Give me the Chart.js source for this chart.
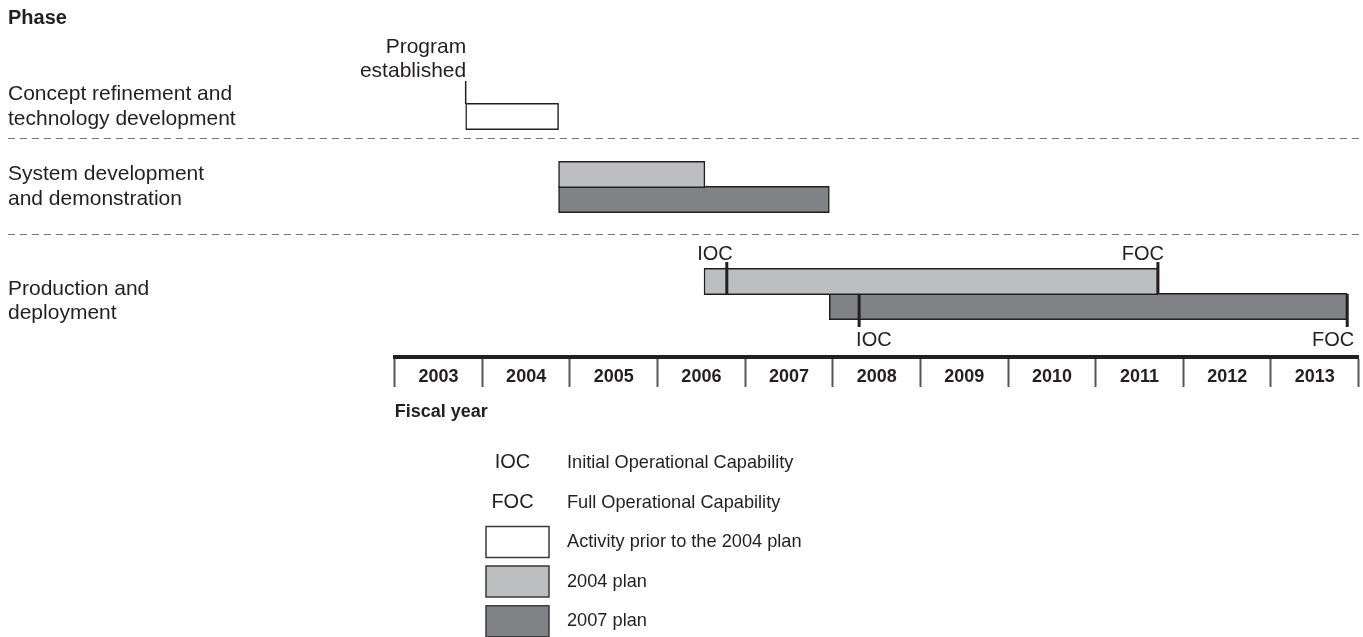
<!DOCTYPE html>
<html>
<head>
<meta charset="utf-8">
<title>Program phases: 2004 plan vs 2007 plan</title>
<script src="https://cdn.jsdelivr.net/npm/chart.js@4.4.1/dist/chart.umd.min.js"></script>
<style>
  html, body { margin: 0; padding: 0; background: #fff; overflow: hidden; }
  #wrap { width: 1363px; height: 637px; }
</style>
</head>
<body>
<div id="wrap"><canvas id="chart" width="1363" height="637"></canvas></div>
<script>
(function () {
  "use strict";

  /* ---- data: fiscal-year spans ------------------------------------------ */
  var years = ["2003", "2004", "2005", "2006", "2007", "2008", "2009", "2010", "2011", "2012", "2013"];
  var phaseLabels = [
    ["Concept refinement and", "technology development"],
    ["System development", "and demonstration"],
    ["Production and", "deployment"]
  ];
  var seriesNames = ["Activity prior to the 2004 plan", "2004 plan", "2007 plan"];
  var priorSpans = [[2003.81, 2004.87]];                         // concept refinement
  var plan2004Spans = [[2004.87, 2006.54], [2006.53, 2011.71]];  // SDD, production
  var plan2007Spans = [[2004.87, 2007.96], [2007.96, 2013.87]];  // SDD, production
  var programEstablished = 2003.81;
  var milestoneNames = ["IOC", "FOC"];
  var milestoneDescs = ["Initial Operational Capability", "Full Operational Capability"];
  var plan2004Milestones = [2006.79, 2011.71];                   // IOC, FOC
  var plan2007Milestones = [2008.30, 2013.87];

  /* ---- layout / style ---------------------------------------------------- */
  var FONT = "'Liberation Sans', Arial, Helvetica, sans-serif";
  var INK = "#231f20";
  var FILL = ["#ffffff", "#bcbec0", "#808285"];
  // vertical lanes in bar-height units above the axis
  var LANE = { prior: [9.62], p2004: [7.3, 3.02], p2007: [6.3, 2.02] };
  var SEPARATORS = [8.76, 4.92];
  var PHASE_BASE = [100, 180, 294.5];
  var BORDER = 1.5;
  var LEG = { markX: 512.5, boxX: 486, boxW: 63, boxH: 31, textX: 567, rowY: [462.5, 502.5, 542, 581.5, 621.3] };

  function spans(arr, lanes) {
    return arr.map(function (s, i) { return { x: s, y: lanes[i] }; });
  }
  function barSet(label, data, color) {
    return {
      label: label, data: data, backgroundColor: color, borderColor: INK,
      borderWidth: BORDER, borderSkipped: false, barThickness: 25 + BORDER, grouped: false
    };
  }

  /* ---- decorations: phase labels, separators, milestones, legend --------- */
  var decor = {
    id: "decor",
    beforeDatasetsDraw: function (chart) {
      var ctx = chart.ctx, y = chart.scales.y;
      ctx.save();
      ctx.fillStyle = INK;
      ctx.textAlign = "left";
      ctx.textBaseline = "alphabetic";
      ctx.font = "bold 20px " + FONT;
      ctx.fillText("Phase", 8, 24);
      ctx.font = "21px " + FONT;
      phaseLabels.forEach(function (lines, i) {
        lines.forEach(function (t, j) { ctx.fillText(t, 8, PHASE_BASE[i] + j * 24.5); });
      });
      ctx.strokeStyle = "#7a7a7a";
      ctx.lineWidth = 1;
      ctx.setLineDash([7, 5]);
      SEPARATORS.forEach(function (v) {
        var py = Math.round(y.getPixelForValue(v)) + 0.5;
        ctx.beginPath(); ctx.moveTo(8, py); ctx.lineTo(1360, py); ctx.stroke();
      });
      ctx.restore();
    },
    afterDatasetsDraw: function (chart) {
      var ctx = chart.ctx, x = chart.scales.x;
      function edges(ds, idx) {
        var el = chart.getDatasetMeta(ds).data[idx];
        var half = (el.height - BORDER) / 2;
        return { top: el.y - half, bottom: el.y + half };
      }
      ctx.save();
      ctx.strokeStyle = INK;
      ctx.fillStyle = INK;

      // program established marker
      var c = edges(0, 0), px = x.getPixelForValue(programEstablished);
      ctx.lineWidth = 1.5;
      ctx.beginPath(); ctx.moveTo(px, c.top); ctx.lineTo(px, c.top - 23); ctx.stroke();
      ctx.font = "21px " + FONT;
      ctx.textAlign = "right";
      ctx.fillText("Program", px + 0.5, c.top - 51.5);
      ctx.fillText("established", px + 0.5, c.top - 27);

      // IOC / FOC ticks on the production bars
      ctx.font = "20px " + FONT;
      ctx.lineWidth = 3;
      var up = edges(1, 1);
      plan2004Milestones.forEach(function (v, i) {
        var mx = x.getPixelForValue(v);
        ctx.beginPath(); ctx.moveTo(mx, up.top - 7); ctx.lineTo(mx, up.bottom); ctx.stroke();
        ctx.textAlign = "right";
        ctx.fillText(milestoneNames[i], mx + 6, up.top - 9);
      });
      var lo = edges(2, 1);
      plan2007Milestones.forEach(function (v, i) {
        var mx = x.getPixelForValue(v);
        ctx.beginPath(); ctx.moveTo(mx, lo.top); ctx.lineTo(mx, lo.bottom + 8); ctx.stroke();
        if (i === 0) { ctx.textAlign = "left"; ctx.fillText(milestoneNames[i], mx - 3, lo.bottom + 27); }
        else { ctx.textAlign = "right"; ctx.fillText(milestoneNames[i], mx + 7, lo.bottom + 27); }
      });
      ctx.restore();
    },
    afterDraw: function (chart) {
      var ctx = chart.ctx;
      ctx.save();
      ctx.fillStyle = INK;
      ctx.textBaseline = "middle";
      milestoneNames.forEach(function (m, i) {
        ctx.font = "20px " + FONT;
        ctx.textAlign = "center";
        ctx.fillText(m, LEG.markX, LEG.rowY[i]);
        ctx.font = "18.2px " + FONT;
        ctx.textAlign = "left";
        ctx.fillText(milestoneDescs[i], LEG.textX, LEG.rowY[i]);
      });
      chart.data.datasets.forEach(function (ds, i) {
        var cy = LEG.rowY[2 + i];
        ctx.fillStyle = ds.backgroundColor;
        ctx.fillRect(LEG.boxX, cy - LEG.boxH / 2, LEG.boxW, LEG.boxH);
        ctx.strokeStyle = "#3a3a3a";
        ctx.lineWidth = 1.5;
        ctx.strokeRect(LEG.boxX, cy - LEG.boxH / 2, LEG.boxW, LEG.boxH);
        ctx.fillStyle = INK;
        ctx.font = "18.2px " + FONT;
        ctx.textAlign = "left";
        ctx.fillText(ds.label, LEG.textX, cy);
      });
      ctx.restore();
    }
  };

  new Chart(document.getElementById("chart"), {
    type: "bar",
    data: {
      datasets: [
        barSet(seriesNames[0], spans(priorSpans, LANE.prior), FILL[0]),
        barSet(seriesNames[1], spans(plan2004Spans, LANE.p2004), FILL[1]),
        barSet(seriesNames[2], spans(plan2007Spans, LANE.p2007), FILL[2])
      ]
    },
    options: {
      indexAxis: "y",
      responsive: false,
      animation: false,
      devicePixelRatio: 1,
      layout: { padding: { left: 394.7, right: 4.4, top: 7, bottom: 0 } },
      plugins: { legend: { display: false }, tooltip: { enabled: false } },
      scales: {
        x: { type: "linear", min: 2003, max: 2014, display: false },
        y: { type: "linear", min: 0, max: 14, offset: false, display: false },
        years: {
          type: "category", labels: years, position: "bottom", offset: true,
          grid: { offset: true, drawOnChartArea: false, drawTicks: true, tickLength: 30, tickWidth: 2, tickColor: "#555" },
          border: { display: true, width: 4, color: INK },
          ticks: { font: { family: FONT, size: 18, weight: "bold" }, color: INK, padding: -21, maxRotation: 0, autoSkip: false },
          title: { display: true, text: "Fiscal year", align: "start", color: INK,
                   font: { family: FONT, size: 18, weight: "bold" }, padding: { top: 0, bottom: 214 } },
          afterFit: function (s) { s.height = 280; }
        }
      }
    },
    plugins: [decor]
  });
})();
</script>
</body>
</html>
